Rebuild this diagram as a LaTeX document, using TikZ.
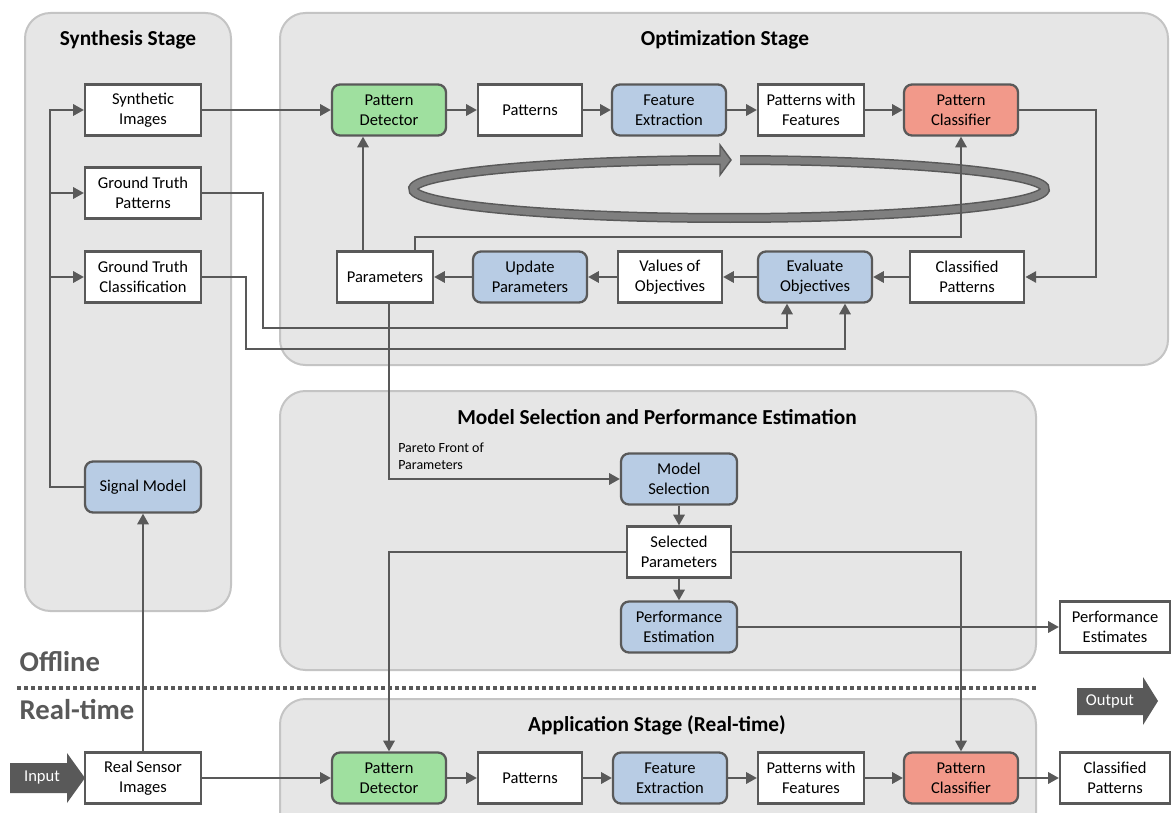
\documentclass[tikz,border=0pt]{standalone}
\usepackage{fontspec}
\setmainfont{Carlito}
\usetikzlibrary{arrows.meta,calc}
\definecolor{Ink}{HTML}{595959}
\definecolor{PanelFill}{HTML}{E6E6E6}
\definecolor{PanelEdge}{HTML}{C4C4C4}
\definecolor{Detect}{HTML}{9FE09F}
\definecolor{Module}{HTML}{B8CCE4}
\definecolor{Classify}{HTML}{F2998A}
\definecolor{Band}{HTML}{7F7F7F}
\newcommand{\boxfont}{\fontsize{12.4}{15}\selectfont}
\newcommand{\headfont}{\fontsize{16}{19}\selectfont\bfseries}
\newcommand{\modefont}{\fontsize{21.5}{25}\selectfont\bfseries}
\newcommand{\notefont}{\fontsize{10.5}{12.75}\selectfont}

\begin{document}
\begin{tikzpicture}[x=0.75pt, y=-0.75pt,
  panel/.style={draw=PanelEdge, fill=PanelFill, line width=1.5pt, rounded corners=19pt},
  head/.style={font=\headfont, text=black},
  box/.style={draw=Ink, fill=#1, line width=1.7pt, align=center, font=\boxfont, inner sep=0pt, minimum width=85.5pt, minimum height=38.25pt},
  box/.default=white,
  proc/.style={box=#1, rounded corners=6pt},
  data/.style={box, minimum width=78pt},
  src/.style={box, minimum width=87pt},
  arr/.style={draw=Ink, line width=1.5pt, -{Triangle[length=8pt,width=8.5pt]}},
]
\def\ya{110} \def\yb{277} \def\yc{778}
\path[use as bounding box, fill=white] (0,0) rectangle (1171,813);
% ---------------- stage panels
\draw[panel] (25,13) rectangle (231,611);
\draw[panel] (280,13) rectangle (1168,365);
\draw[panel] (280,391) rectangle (1036,670);
\draw[panel] (280,699) rectangle (1036,850);
\node[head] (tSyn) at (128,40) {Synthesis Stage};
\node[head] (tOpt) at (725,40) {Optimization Stage};
\node[head] (tMod) at (657,417) {Model Selection and Performance Estimation};
\node[head] (tApp) at (657,725) {Application Stage (Real-time)};
% ---------------- offline / real-time split
\draw[draw=Ink, line width=3pt, dash pattern=on 3pt off 2.25pt] (17,688) -- (1036,688);
\node[font=\modefont, text=Ink, anchor=west] (offl) at (15,662) {Offline};
\node[font=\modefont, text=Ink, anchor=west] (realt) at (15,710) {Real-time};
\fill[Ink] (10,763) -- (67,763) -- (67,753) -- (85,778) -- (67,803) -- (67,793) -- (10,793) -- cycle;
\node[font=\boxfont, text=white] (inp) at (42,778) {Input};
\fill[Ink] (1077,688) -- (1143,688) -- (1143,677) -- (1158,701) -- (1143,725) -- (1143,715) -- (1077,715) -- cycle;
\node[font=\boxfont, text=white] (outp) at (1110,701) {Output};
% ---------------- iteration loop
\coordinate (loop) at (729,189);
\draw[draw=Ink, line width=7.5pt] ($(loop)+(272:316 and 29)$) arc[start angle=272, end angle=628.4, x radius=316, y radius=29];
\filldraw[fill=Band, draw=Ink, line width=1.1pt] (720,145) -- (731,160) -- (720,175) -- cycle;
\draw[draw=Band, line width=5.25pt] ($(loop)+(272:316 and 29)$) arc[start angle=272, end angle=628.9, x radius=316, y radius=29];
% ---------------- synthesis stage
\node[src] (SynImg) at (143,\ya) {Synthetic\\Images};
\node[src] (GtPat) at (143,193) {Ground Truth\\Patterns};
\node[src] (GtCls) at (143,\yb) {Ground Truth\\Classification};
\node[proc=Module, minimum width=87pt] (SigMod) at (143,487) {Signal Model};
\node[src] (RealImg) at (143,\yc) {Real Sensor\\Images};
% ---------------- optimization stage
\node[proc=Detect] (DetA) at (389,\ya) {Pattern\\Detector};
\node[data] (PatA) at (530,\ya) {Patterns};
\node[proc=Module] (FeatA) at (669,\ya) {Feature\\Extraction};
\node[data, minimum width=79.5pt] (PwfA) at (811,\ya) {Patterns with\\Features};
\node[proc=Classify] (ClsA) at (961,\ya) {Pattern\\Classifier};
\node[box, minimum width=86pt] (CpA) at (967,\yb) {Classified\\Patterns};
\node[proc=Module] (EvalObj) at (815,\yb) {Evaluate\\Objectives};
\node[data] (ValObj) at (670,\yb) {Values of\\Objectives};
\node[proc=Module] (UpdPar) at (530,\yb) {Update\\Parameters};
\node[data, minimum width=72pt] (Par) at (385,\yb) {Parameters};
% ---------------- model selection
\node[proc=Module, minimum width=87pt] (ModSel) at (679,479) {Model\\Selection};
\node[data] (SelPar) at (679,552) {Selected\\Parameters};
\node[proc=Module, minimum width=87pt] (PerfEst) at (679,627) {Performance\\Estimation};
\node[box, minimum width=82.5pt] (PerfOut) at (1115,627) {Performance\\Estimates};
\node[font=\notefont, align=left, anchor=west, inner sep=0pt] (pareto) at (398,456) {Pareto Front of\\Parameters};
% ---------------- application stage
\node[proc=Detect] (DetB) at (389,\yc) {Pattern\\Detector};
\node[data] (PatB) at (530,\yc) {Patterns};
\node[proc=Module] (FeatB) at (670,\yc) {Feature\\Extraction};
\node[data, minimum width=79.5pt] (PwfB) at (811,\yc) {Patterns with\\Features};
\node[proc=Classify] (ClsB) at (961,\yc) {Pattern\\Classifier};
\node[box, minimum width=82.5pt] (CpB) at (1115,\yc) {Classified\\Patterns};
% ---------------- connectors
\coordinate (bus) at (50,487);
\draw[arr] (SigMod.west) -- (bus) |- (SynImg.west);
\draw[arr] (bus |- GtPat.west) -- (GtPat.west);
\draw[arr] (bus |- GtCls.west) -- (GtCls.west);
\draw[arr] (RealImg.north) -- (SigMod.south);
\draw[arr] (SynImg.east) -- (DetA.west);
\draw[arr] (DetA.east) -- (PatA.west);
\draw[arr] (PatA.east) -- (FeatA.west);
\draw[arr] (FeatA.east) -- (PwfA.west);
\draw[arr] (PwfA.east) -- (ClsA.west);
\draw[arr] (ClsA.east) -- ++(77,0) |- (CpA.east);
\draw[arr] (CpA.west) -- (EvalObj.east);
\draw[arr] (EvalObj.west) -- (ValObj.east);
\draw[arr] (ValObj.west) -- (UpdPar.east);
\draw[arr] (UpdPar.west) -- (Par.east);
\draw[arr] ([xshift=-16.5pt]Par.north) -- ([xshift=-16.5pt]Par.north |- DetA.south);
\draw[arr] ([xshift=22.5pt]Par.north) -- ++(0,-13) -| (ClsA.south);
\draw[arr] (GtPat.east) -| (263,328) -| ([xshift=-21pt]EvalObj.south);
\draw[arr] (GtCls.east) -| (246,349) -| ([xshift=22.5pt]EvalObj.south);
\draw[arr] ([xshift=3pt]Par.south) |- (ModSel.west);
\draw[arr] (ModSel.south) -- (SelPar.north);
\draw[arr] (SelPar.south) -- (PerfEst.north);
\draw[arr] (PerfEst.east) -- (PerfOut.west);
\draw[arr] (SelPar.west) -| (DetB.north);
\draw[arr] (SelPar.east) -| (ClsB.north);
\draw[arr] (RealImg.east) -- (DetB.west);
\draw[arr] (DetB.east) -- (PatB.west);
\draw[arr] (PatB.east) -- (FeatB.west);
\draw[arr] (FeatB.east) -- (PwfB.west);
\draw[arr] (PwfB.east) -- (ClsB.west);
\draw[arr] (ClsB.east) -- (CpB.west);
\end{tikzpicture}
\end{document}
